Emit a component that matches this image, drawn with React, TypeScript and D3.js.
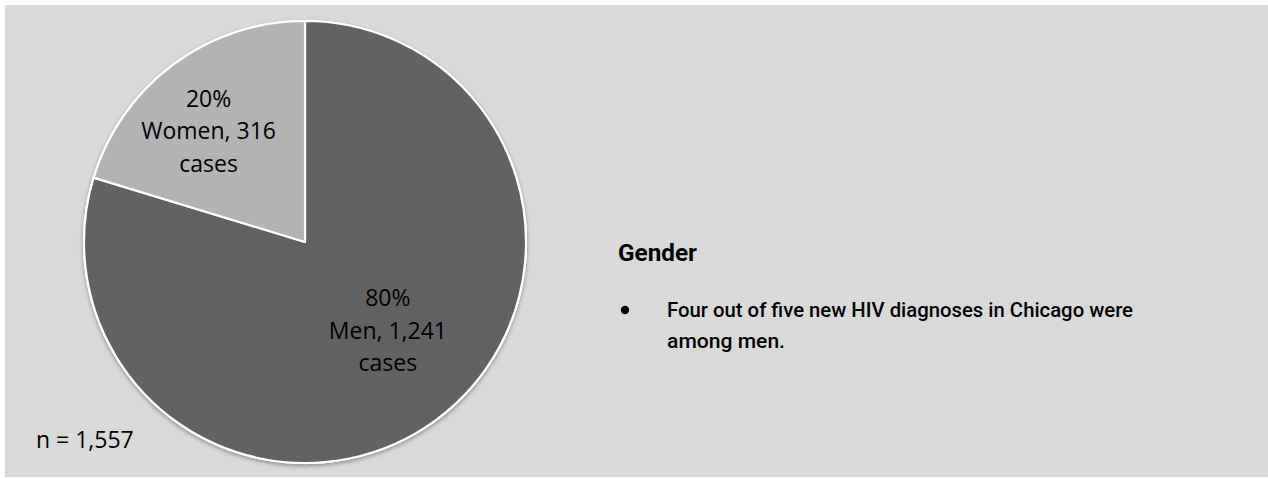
import React from "react";
import * as d3 from "d3";

const categories = ["Men", "Women"];
const cases = [1241, 316];
const sliceColors = ["#626262", "#b3b3b3"];
// label placement (layout): angle in degrees clockwise from 12 o'clock, radius fraction
const labelAngles = [137, -41];
const labelRadii = [0.55, 0.665];
const title = "Gender";
const bulletLines = ["Four out of five new HIV diagnoses in Chicago were", "among men."];
const bulletLineWidths = [466, 118];

const W = 1268;
const H = 478;

export default function App() {
  const cx = 305;
  const cy = 242;
  const R = 221;
  const total = d3.sum(cases);
  const pie = d3.pie<number>().sort(null).startAngle(0).endAngle(2 * Math.PI);
  const arcs = pie(cases);
  const arc = d3.arc<d3.PieArcDatum<number>>().innerRadius(0).outerRadius(R);
  const fmt = d3.format(",");
  const labelFont = "'Open Sans', 'Liberation Sans', sans-serif";
  const narrow = "Roboto, 'Liberation Sans', sans-serif";

  return (
    <svg width={W} height={H} style={{ position: "absolute", left: 0, top: 0, display: "block" }}>
      <defs>
        <filter id="sh" x="-10%" y="-10%" width="120%" height="125%">
          <feDropShadow dx="0" dy="2" stdDeviation="2" floodColor="#000" floodOpacity="0.35" />
        </filter>
      </defs>
      <rect x={0} y={0} width={W} height={H} fill="#ffffff" />
      <rect x={5} y={5} width={W - 5} height={H - 6} fill="#d9d9d9" />
      <g transform={`translate(${cx},${cy})`}>
        <circle r={R + 1} fill="#ffffff" filter="url(#sh)" />
        {arcs.map((a, i) => (
          <path key={categories[i]} d={arc(a) || ""} fill={sliceColors[i]} stroke="#ffffff" strokeWidth={2.2} strokeLinejoin="round" />
        ))}
        {arcs.map((a, i) => {
          const ang = (labelAngles[i] * Math.PI) / 180;
          const r = labelRadii[i] * R;
          const lx = Math.sin(ang) * r;
          const ly = -Math.cos(ang) * r;
          const pct = Math.round((cases[i] / total) * 100) + "%";
          const lines = [pct, `${categories[i]}, ${fmt(cases[i])}`, "cases"];
          return (
            <text key={"l" + i} textAnchor="middle" fontFamily={labelFont} fontSize={23} fill="#000">
              {lines.map((t, j) => (
                <tspan key={j} x={lx} y={ly + (j - 1) * 32.5} dy="0.35em">
                  {t}
                </tspan>
              ))}
            </text>
          );
        })}
      </g>
      <text x={36} y={448} fontFamily={labelFont} fontSize={23} fill="#000">
        {`n = ${fmt(total)}`}
      </text>
      <text x={618} y={261} fontFamily={narrow} fontWeight={700} fontSize={24} fill="#000" textLength={79} lengthAdjust="spacingAndGlyphs">
        {title}
      </text>
      <circle cx={625} cy={310} r={4.2} fill="#000" />
      {bulletLines.map((t, i) => (
        <text key={i} x={667} y={317 + i * 31} fontFamily={narrow} fontWeight={500} fontSize={21} fill="#000" textLength={bulletLineWidths[i]} lengthAdjust="spacingAndGlyphs">
          {t}
        </text>
      ))}
    </svg>
  );
}
